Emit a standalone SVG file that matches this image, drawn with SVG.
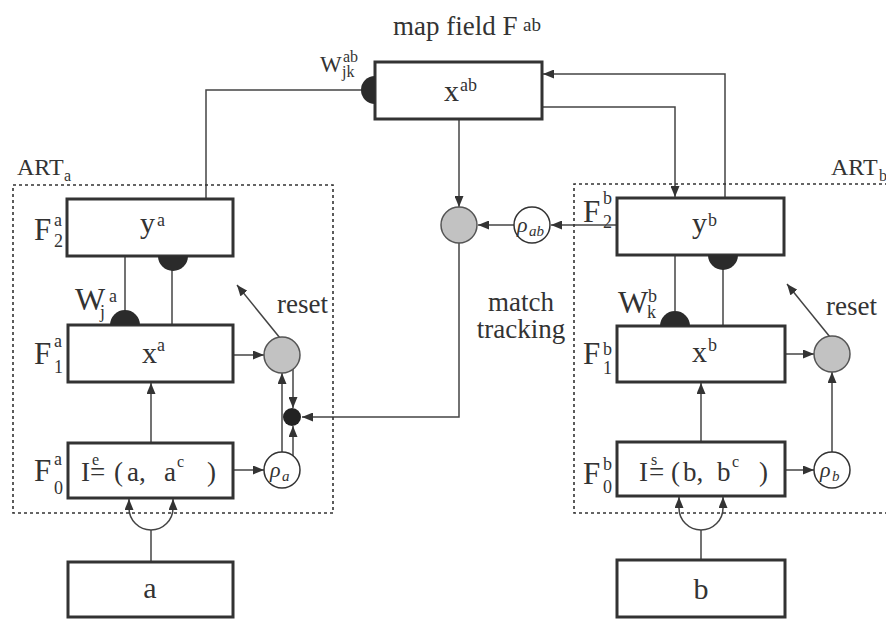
<svg xmlns="http://www.w3.org/2000/svg" width="886" height="619" viewBox="0 0 886 619">
<style>
.t{font-family:"Liberation Serif","Times New Roman",serif;fill:#333}
.box{fill:#fff;stroke:#333;stroke-width:3}
.ln{fill:none;stroke:#444;stroke-width:1.5}
.arr{fill:none;stroke:#444;stroke-width:1.5;marker-end:url(#ah)}
.dot{fill:none;stroke:#333;stroke-width:1.6;stroke-dasharray:3 3}
.gray{fill:#c2c2c2;stroke:#555;stroke-width:1.5}
.rho{fill:#fff;stroke:#333;stroke-width:1.5}
.half{fill:#2b2b2b}
.big{font-size:30px}
.lbl{font-size:27px}
.F{font-size:31px}
.s{font-size:18px}
.r{font-family:"Liberation Serif",serif;font-style:italic;fill:#333}
</style>
<defs>
<marker id="ah" markerUnits="userSpaceOnUse" markerWidth="11" markerHeight="9" refX="11" refY="4.5" orient="auto">
<path d="M0,0 L11,4.5 L0,9 z" fill="#333"/>
</marker>
</defs>

<g id="labels">
<text class="t lbl" x="393" y="35">map field F</text>
<text class="t" x="523" y="31" font-size="19">ab</text>
<text class="t" x="17" y="175" font-size="24">ART</text>
<text class="t" x="64" y="181" font-size="16">a</text>
<text class="t" x="831" y="175" font-size="24">ART</text>
<text class="t" x="879" y="181" font-size="16">b</text>
<text class="t lbl" x="521" y="311" text-anchor="middle">match</text>
<text class="t lbl" x="521" y="338" text-anchor="middle">tracking</text>
<text class="t lbl" x="277" y="313">reset</text>
<text class="t lbl" x="826" y="315">reset</text>
<text class="t" x="320" y="72" font-size="23">W</text>
<text class="t" x="343" y="62" font-size="16">ab</text>
<text class="t" x="342" y="77" font-size="16">jk</text>
<text class="t" x="75" y="310" font-size="32">W</text>
<text class="t s" x="109" y="302">a</text>
<text class="t s" x="100" y="318">j</text>
<text class="t" x="618" y="313" font-size="32">W</text>
<text class="t s" x="648" y="302">b</text>
<text class="t s" x="647" y="318">k</text>
<text class="t F" x="34" y="240">F</text>
<text class="t s" x="54" y="226">a</text>
<text class="t s" x="54" y="247">2</text>
<text class="t F" x="34" y="364">F</text>
<text class="t s" x="54" y="347">a</text>
<text class="t s" x="54" y="373">1</text>
<text class="t F" x="34" y="481">F</text>
<text class="t s" x="54" y="465">a</text>
<text class="t s" x="54" y="494">0</text>
<text class="t F" x="583" y="222">F</text>
<text class="t s" x="603" y="204">b</text>
<text class="t s" x="603" y="228">2</text>
<text class="t F" x="583" y="364">F</text>
<text class="t s" x="603" y="355">b</text>
<text class="t s" x="603" y="374">1</text>
<text class="t F" x="583" y="484">F</text>
<text class="t s" x="603" y="470">b</text>
<text class="t s" x="603" y="493">0</text>
</g>

<g id="connectors">
<path class="ln" d="M206,199 V90 H361"/>
<path class="arr" d="M725,198 V74 H543"/>
<path class="arr" d="M543,107 H675 V197"/>
<path class="arr" d="M459,120 V207"/>
<path class="arr" d="M617,225 H551"/>
<path class="arr" d="M514,225 H478"/>
<path class="arr" d="M459,243 V417 H302"/>
<path class="ln" d="M125,256 V311"/>
<path class="ln" d="M172,270 V325"/>
<path class="ln" d="M675,255 V311"/>
<path class="ln" d="M723,269 V326"/>
<path class="arr" d="M234,355 H264"/>
<path class="arr" d="M151,442 V383"/>
<path class="arr" d="M234,470 H264"/>
<path class="arr" d="M282,452 V373"/>
<path class="arr" d="M293,456 V426"/>
<path class="arr" d="M293,369 V408"/>
<path class="arr" d="M280,338 L237,285"/>
<path class="ln" d="M151,561 V530"/>
<path class="arr" d="M151,530 A22,22 0 0 1 129,508 V499"/>
<path class="arr" d="M151,530 A22,22 0 0 0 173,508 V499"/>
<path class="arr" d="M785,354 H814"/>
<path class="arr" d="M701,441 V383"/>
<path class="arr" d="M785,470 H814"/>
<path class="arr" d="M832,452 V372"/>
<path class="arr" d="M830,337 L787,284"/>
<path class="ln" d="M701,559 V530"/>
<path class="arr" d="M701,530 A22,22 0 0 1 679,508 V497"/>
<path class="arr" d="M701,530 A22,22 0 0 0 723,508 V497"/>
</g>

<g id="ART_a">
<rect class="dot" x="13" y="185" width="320" height="328"/>
</g>
<g id="ART_b">
<path class="dot" d="M900,184 H574 V513 H900"/>
</g>

<g id="x_ab">
<rect class="box" x="375" y="62" width="167" height="57"/>
<text class="t big" x="444" y="101">x</text>
<text class="t s" x="460" y="91">ab</text>
<path class="half" d="M375,76 A14,14 0 0 0 375,104 Z"/>
</g>

<g id="y_a">
<rect class="box" x="67" y="199" width="166" height="57"/>
<text class="t big" x="140" y="233">y</text>
<text class="t s" x="157" y="226">a</text>
<path class="half" d="M158,256 A15,15 0 0 0 188,256 Z"/>
</g>
<g id="x_a">
<rect class="box" x="68" y="325" width="165" height="57"/>
<text class="t big" x="142" y="363">x</text>
<text class="t s" x="157" y="351">a</text>
<path class="half" d="M110,325 A15,15 0 0 1 140,325 Z"/>
</g>
<g id="I_e">
<rect class="box" x="68" y="443" width="165" height="55"/>
<text class="t lbl" x="81" y="481">I</text>
<text class="t" x="92" y="465" font-size="16">e</text>
<text class="t lbl" x="90" y="481">=</text>
<text class="t lbl" x="114" y="481">(</text>
<text class="t lbl" x="127" y="481">a,</text>
<text class="t lbl" x="164" y="481">a</text>
<text class="t" x="177" y="467" font-size="16">c</text>
<text class="t lbl" x="207" y="481">)</text>
</g>
<g id="a">
<rect class="box" x="68" y="562" width="165" height="55"/>
<text class="t big" x="150" y="598" text-anchor="middle">a</text>
</g>
<g id="reset_a">
<circle class="gray" cx="282" cy="355" r="18"/>
</g>
<g id="rho_a">
<circle class="rho" cx="282" cy="470" r="18"/>
<text class="r" x="270" y="477" font-size="22">ρ</text>
<text class="r" x="282" y="481" font-size="15">a</text>
</g>
<g id="junction_a">
<circle cx="292" cy="417" r="9" fill="#222"/>
</g>

<g id="match">
<circle class="gray" cx="459" cy="225" r="18"/>
</g>
<g id="rho_ab">
<circle class="rho" cx="532" cy="225" r="18"/>
<text class="r" x="517" y="232" font-size="22">ρ</text>
<text class="r" x="529" y="236" font-size="15">ab</text>
</g>

<g id="y_b">
<rect class="box" x="617" y="198" width="167" height="57"/>
<text class="t big" x="692" y="233">y</text>
<text class="t s" x="708" y="226">b</text>
<path class="half" d="M708,255 A15,15 0 0 0 738,255 Z"/>
</g>
<g id="x_b">
<rect class="box" x="617" y="326" width="168" height="56"/>
<text class="t big" x="692" y="362">x</text>
<text class="t s" x="708" y="351">b</text>
<path class="half" d="M660,326 A15,15 0 0 1 690,326 Z"/>
</g>
<g id="I_s">
<rect class="box" x="617" y="442" width="168" height="54"/>
<text class="t lbl" x="639" y="481">I</text>
<text class="t" x="651" y="465" font-size="16">s</text>
<text class="t lbl" x="649" y="481">=</text>
<text class="t lbl" x="671" y="481">(</text>
<text class="t lbl" x="683" y="481">b,</text>
<text class="t lbl" x="717" y="481">b</text>
<text class="t" x="732" y="467" font-size="16">c</text>
<text class="t lbl" x="759" y="481">)</text>
</g>
<g id="b">
<rect class="box" x="617" y="560" width="168" height="57"/>
<text class="t big" x="701" y="599" text-anchor="middle">b</text>
</g>
<g id="reset_b">
<circle class="gray" cx="832" cy="354" r="18"/>
</g>
<g id="rho_b">
<circle class="rho" cx="832" cy="470" r="18"/>
<text class="r" x="820" y="477" font-size="22">ρ</text>
<text class="r" x="832" y="481" font-size="15">b</text>
</g>
</svg>
